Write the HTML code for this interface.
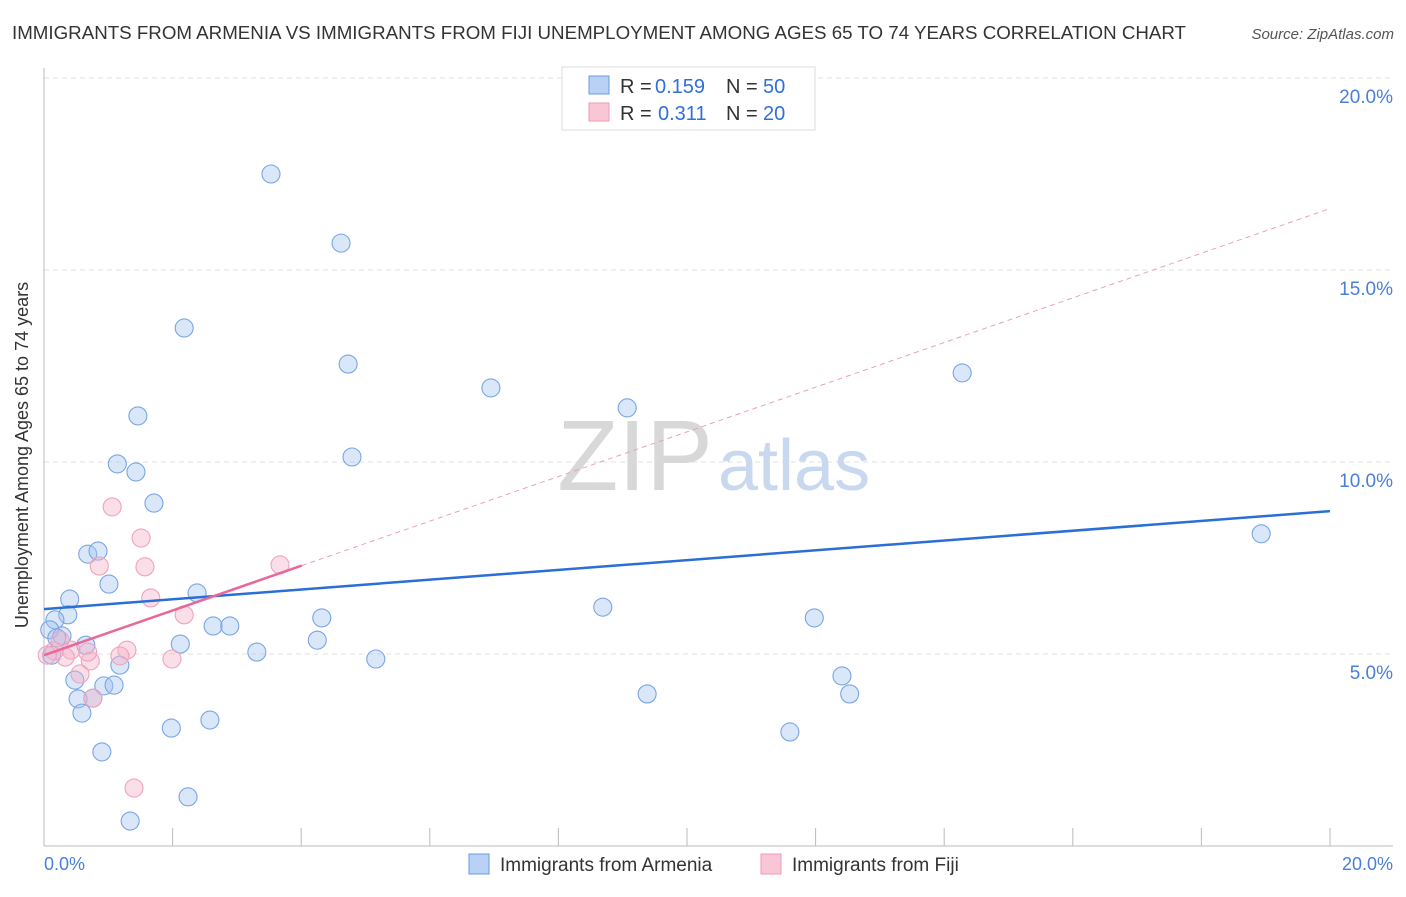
<!DOCTYPE html>
<html><head><meta charset="utf-8"><style>
body{margin:0;background:#fff;font-family:"Liberation Sans",sans-serif}
svg text{font-family:"Liberation Sans",sans-serif}
</style></head><body>
<svg width="1406" height="892" xmlns="http://www.w3.org/2000/svg">
<text x="12" y="39" font-size="18" fill="#333" textLength="1174" lengthAdjust="spacingAndGlyphs">IMMIGRANTS FROM ARMENIA VS IMMIGRANTS FROM FIJI UNEMPLOYMENT AMONG AGES 65 TO 74 YEARS CORRELATION CHART</text>
<text x="1394" y="39" font-size="15" font-style="italic" fill="#555" text-anchor="end">Source: ZipAtlas.com</text>
<g id="grid"></g>
<line x1="44" y1="68" x2="44" y2="846" stroke="#bbb"/>
<line x1="44" y1="846" x2="1393" y2="846" stroke="#bbb"/>
<g id="xticks"></g>
<text x="28" y="455" font-size="18" fill="#333" text-anchor="middle" transform="rotate(-90 28 455)">Unemployment Among Ages 65 to 74 years</text>
<text x="44" y="870" font-size="18" fill="#4a7fd8">0.0%</text>
<text x="1393" y="870" font-size="18" fill="#4a7fd8" text-anchor="end">20.0%</text>
<g><text x="635" y="490" font-size="100" font-family="Liberation Serif" fill="#d8d8d8" text-anchor="middle">ZIP</text><text x="718" y="490" font-size="72" fill="#c8d8ef">atlas</text></g>
<g id="marks"></g>
<g>
<rect x="562" y="67" width="253" height="63" fill="#fff" stroke="#ddd"/>
<rect x="589" y="76" width="20" height="18" fill="#b8d1f5" stroke="#6a9ae0"/>
<rect x="589" y="103" width="20" height="18" fill="#f9c6d6" stroke="#ee9ab5"/>
<text x="620" y="93" font-size="20" fill="#333">R =</text><text x="655" y="93" font-size="20" fill="#2f6fd8">0.159</text>
<text x="726" y="93" font-size="20" fill="#333">N =</text><text x="763" y="93" font-size="20" fill="#2f6fd8">50</text>
<text x="620" y="120" font-size="20" fill="#333">R =</text><text x="658" y="120" font-size="20" fill="#2f6fd8">0.311</text>
<text x="726" y="120" font-size="20" fill="#333">N =</text><text x="763" y="120" font-size="20" fill="#2f6fd8">20</text>
</g>
<g>
<rect x="469" y="854" width="20" height="20" fill="#b8d1f5" stroke="#6a9ae0"/>
<text x="500" y="871" font-size="19" fill="#333">Immigrants from Armenia</text>
<rect x="761" y="854" width="20" height="20" fill="#f9c6d6" stroke="#ee9ab5"/>
<text x="792" y="871" font-size="19" fill="#333">Immigrants from Fiji</text>
</g>
</svg>
<script>
const yTicks=[5,10,15,20];
const yTickLabels=["5.0%","10.0%","15.0%","20.0%"];
const armeniaX=[3.53,4.62,2.18,4.73,6.95,9.07,14.28,1.46,4.79,1.14,1.43,1.71,18.93,0.68,0.84,1.01,2.38,0.40,0.37,8.69,11.98,4.32,2.63,2.89,2.12,0.65,0.17,0.09,0.28,0.20,0.12,4.25,3.31,5.16,1.18,0.48,0.93,1.09,12.41,12.53,9.38,0.53,0.76,0.59,2.58,1.98,11.60,0.90,2.24,1.34];
const armeniaY=[17.5,15.7,13.49,12.55,11.93,11.41,12.32,11.2,10.13,9.95,9.74,8.93,8.13,7.6,7.68,6.82,6.59,6.43,6.02,6.22,5.94,5.94,5.73,5.73,5.26,5.23,5.89,5.63,5.47,5.42,4.97,5.36,5.05,4.87,4.71,4.32,4.17,4.19,4.43,3.96,3.96,3.83,3.85,3.46,3.28,3.07,2.97,2.45,1.28,0.65];
const fijiX=[1.06,1.51,0.86,1.57,1.66,2.18,3.67,1.29,1.18,0.72,0.42,0.33,0.16,0.56,0.76,1.99,0.68,0.05,1.40,0.25];
const fijiY=[8.83,8.02,7.29,7.27,6.46,6.02,7.32,5.10,4.95,4.82,5.10,4.92,5.08,4.48,3.85,4.87,5.05,4.97,1.51,5.36];
const armeniaTrend=[6.17,8.72];
const fijiTrend=[4.97,16.6];
const fijiSolidEnd=4.01;
const NS="http://www.w3.org/2000/svg";
const X=v=>44+v/20*1286, Y=v=>846-v/20*768;
function mk(t,a,p){const e=document.createElementNS(NS,t);for(const k in a)e.setAttribute(k,a[k]);(p||document.getElementById('marks')).appendChild(e);return e;}
const grid=document.getElementById('grid');
yTicks.forEach((t,i)=>{
 const l=mk('line',{x1:44,x2:1393,y1:Y(t),y2:Y(t),stroke:'#e2e2e2','stroke-dasharray':'5,4'},grid);
 
 
 const tx=mk('text',{x:1393,y:Y(t)+25,'font-size':19,fill:'#4a7fd8','text-anchor':'end'},grid);
 tx.textContent=yTickLabels[i];
 
 
});
const xt=document.getElementById('xticks');
for(let i=0;i<=10;i++){const l=mk('line',{x1:X(i*2),x2:X(i*2),y1:828,y2:846,stroke:'#bbb'},xt);
 
 }
armeniaX.forEach((x,i)=>{const c=mk('circle',{cx:X(x),cy:Y(armeniaY[i]),r:9,fill:'rgba(160,195,240,0.4)',stroke:'#79a5e4','stroke-width':1.1});
 
 });
fijiX.forEach((x,i)=>{const c=mk('circle',{cx:X(x),cy:Y(fijiY[i]),r:9,fill:'rgba(245,175,198,0.4)',stroke:'#f0a3bc','stroke-width':1.1});
 
 });
const fy=x=>fijiTrend[0]+(fijiTrend[1]-fijiTrend[0])*x/20;
const d=mk('line',{x1:X(fijiSolidEnd),y1:Y(fy(fijiSolidEnd)),x2:X(20),y2:Y(fijiTrend[1]),stroke:'#eaa0b8','stroke-dasharray':'5,4','stroke-width':1});


const b=mk('line',{x1:X(0),y1:Y(armeniaTrend[0]),x2:X(20),y2:Y(armeniaTrend[1]),stroke:'#2a6fd6','stroke-width':2.5});


const p=mk('line',{x1:X(0),y1:Y(fijiTrend[0]),x2:X(fijiSolidEnd),y2:Y(fy(fijiSolidEnd)),stroke:'#e8689a','stroke-width':2.5});


</script>
</body></html>
